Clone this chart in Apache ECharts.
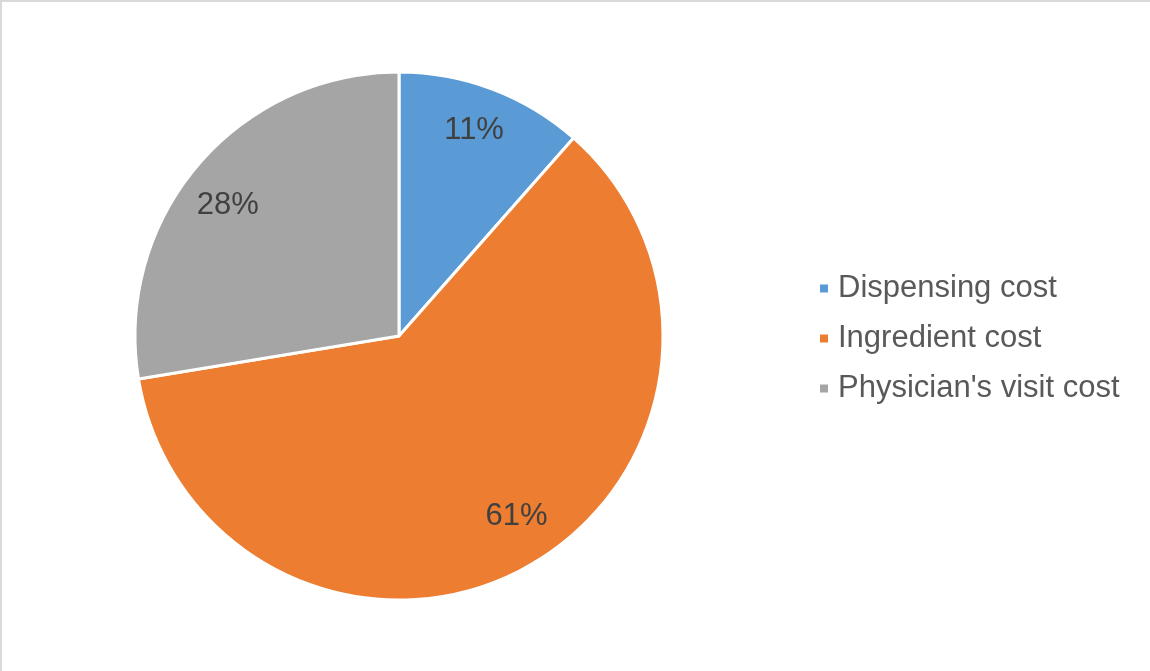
<!DOCTYPE html>
<html><head><meta charset="utf-8">
<script src="https://cdn.jsdelivr.net/npm/echarts@6/dist/echarts.min.js"></script>
<style>
html,body{margin:0;padding:0;background:#fff;}
#c{width:1150px;height:671px;box-sizing:border-box;border-top:2px solid #d9d9d9;border-left:2px solid #d9d9d9;}
</style></head>
<body><div id="c"></div>
<script>
const categories = ["Dispensing cost", "Ingredient cost", "Physician's visit cost"];
const values = [11.5, 60.9, 27.6];
const colors = ["#5B9BD5", "#ED7D31", "#A5A5A5"];
const labelOffsets = [[-2, -2], [12, -10], [-5, 11]];

const data = categories.map((n, i) => ({name: n, value: values[i], itemStyle: {color: colors[i]}}));
const chart = echarts.init(document.getElementById('c'));
chart.setOption({
  animation: false,
  legend: {
    orient: 'vertical', left: 811, top: 266,
    itemWidth: 10, itemHeight: 10, itemGap: 19, icon: 'rect',
    data: categories,
    textStyle: {fontFamily: 'Liberation Sans', fontSize: 31, color: '#595959', padding: [0, 0, 0, 4]}
  },
  series: [{
    type: 'pie', center: [397, 334], radius: [0, 264],
    startAngle: 90, clockwise: true,
    itemStyle: {borderColor: '#fff', borderWidth: 3},
    label: {show: false}, labelLine: {show: false},
    data: data
  }, {
    type: 'pie', center: [397, 334], radius: [166, 264],
    startAngle: 90, clockwise: true, silent: true, percentPrecision: 0,
    itemStyle: {color: 'rgba(0,0,0,0)'},
    label: {show: true, position: 'inside', formatter: '{d}%',
      fontFamily: 'Liberation Sans', fontSize: 31, color: '#404040'},
    labelLine: {show: false},
    data: categories.map((n, i) => ({name: n, value: values[i],
      itemStyle: {color: 'rgba(0,0,0,0)'}, label: {offset: labelOffsets[i]}}))
  }]
});
</script></body></html>
